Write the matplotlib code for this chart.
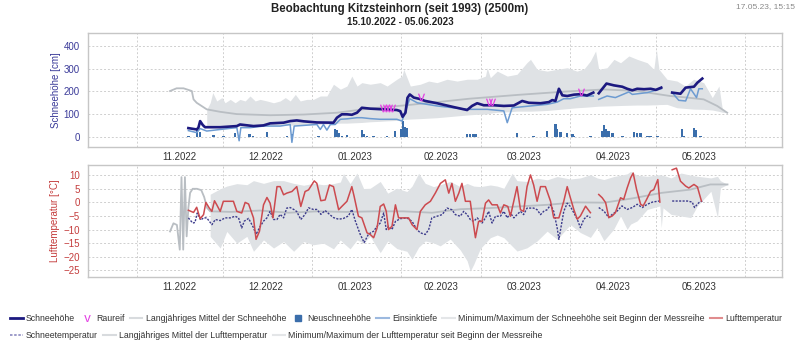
import matplotlib
matplotlib.use("Agg")
import matplotlib.pyplot as plt
import matplotlib.ticker as mticker
import matplotlib.dates as mdates
from matplotlib.lines import Line2D
import numpy as np
import pandas as pd

plt.rcParams['font.family'] = ['Liberation Sans', 'DejaVu Sans']

nan = np.nan
start = pd.Timestamp('2022-10-15')

# --- snow (days after 15.10.2022) ---
snow_days = [35, 37.9, 38.5, 39.1, 40, 40.8, 46.1, 51.9, 53, 57.7, 61.2, 63.5, 68.2, 70.5, 72.8, 75.2,
             79.8, 85.6, 86.8, 88.5, 90.3, 92, 93.8, 95.5, 98.4, 103.1, 107.7, 108.9, 109.7, 110.7, 111.4,
             112.2, 113.6, 115.3, 117.6, 121.7, 127.5, 132.2, 133.9, 135.7, 138, 141.5, 145, 148.5, 151.4,
             153.7, 157.8, 160.7, 161.9, 163, 164.2, 165.4, 167.1, 169.5, 171.7, 174, 176.2, 177, 178.1,
             180.8, 183.4, 186.3, 188, 189.8, 191.5, 193.9, 196.2, 198, 199.9, 202, 203.7, 206.6, 208.4,
             211.3, 212.5, 214.2]
snow_cm = [38, 32, 40, 69, 52, 42, 42, 47, 54, 47, 50, 59, 62, 69, 72, 68,
           63, 62, 84, 99, 99, 97, 106, 128, 124, 121, 118, 113, 88, 106, 172,
           187, 173, 168, 158, 148, 131, 118, 136, 148, 139, 139, 136, 138, 158,
           150, 148, 153, 162, 158, 212, 183, 180, 186, 188, 182, 195, nan, 192,
           235, 227, 221, 212, 205, 212, 210, 212, 207, 217, nan, 195, 190, 217,
           221, 239, 257]

sink_days = [35, 37.9, 39.1, 41.4, 46.1, 49.6, 51.9, 52.7, 53.3, 56.5, 61.2, 67, 70.5, 71.1, 71.9, 75.2,
             79.8, 81, 82.1, 83.3, 84.5, 86.2, 88, 90.3, 93.8, 95.5, 98.4, 101.9, 107.7, 109.5, 112.2,
             114.8, 121.7, 132.2, 139.2, 145, 146.2, 147.9, 154.3, 160.1, 163.6, 165.9, 168.2, 171.7,
             176.2, 177, 178.1, 181, 183.9, 188.6, 189.8, 195, 199.9, 202, 203.7, 206, 208.4, 210.1,
             212.2, 213, 214.2]
sink_cm = [27, 18, 36, 25, 32, 37, 40, -18, 40, 40, 47, 47, 54, -25, 47, 50,
           54, 32, 54, 29, 54, 54, 77, 79, 84, 84, 80, 77, 77, 69, 168,
           150, 136, 121, 121, 114, 62, 128, 136, 143, 153, 168, 168, 180,
           180, nan, 165, 180, 173, 198, 187, 195, 212, nan, 195, 161, 158, 212,
           173, 212, 212]

snow_mean_days = [28.6, 30.9, 33.3, 36.2, 36.8, 37.9, 41.4, 46.1, 51.9, 63.5, 75.2, 86.8, 98.4, 110,
                  121, 133, 150, 167, 180, 191.5, 203, 209, 214.7, 219.4, 222.9]
snow_mean_cm = [202, 214, 214, 202, 165, 150, 121, 110, 100, 95, 98, 106, 125, 138,
                152, 168, 185, 200, 209, 202, 180, 173, 165, 136, 106]

snow_band_days = [41.4, 42.6, 43.5, 44.9, 46.7, 47.8, 49.6, 51.3, 53.0, 54.8, 56.5, 58.3, 60.0, 62.4,
                  64.7, 67.0, 68.8, 70.5, 72.3, 74.0, 76.3, 78.6, 81.0, 83.3, 85.6, 88.0, 90.3, 92.0,
                  93.8, 95.5, 98.4, 101.9, 104.3, 107.7, 109.5, 110.1, 112.4, 115.9, 118.8, 121.7,
                  125.2, 128.7, 132.2, 135.7, 138.6, 139.2, 140.3, 142.7, 146.2, 149.6, 153.1, 154.3,
                  156.6, 160.1, 163.6, 167.1, 170.5, 173, 175.2, 177, 178.1, 181, 183.4, 185.7, 188.6,
                  191.5, 195, 197.3, 198.2, 199.1, 201.9, 205.4, 208.3, 211.2, 214.7, 217.7, 220,
                  221.2, 222.9]
snow_band_max = [120, 150, 195, 158, 173, 150, 165, 150, 165, 158, 180, 158, 165, 158,
                 150, 158, 173, 158, 187, 158, 165, 165, 180, 180, 232, 210, 224, 268,
                 224, 239, 232, 239, 224, 254, 268, 298, 224, 232, 246, 239,
                 254, 246, 254, 254, 268, 305, 261, 290, 268, 276, 328, 342,
                 298, 290, 298, 305, 290, 300, 335, 379, 298, 305, 342, 327, 357,
                 342, 327, 298, 386, 298, 254, 246, 224, 254, 239, 173, 224,
                 121, 106]
snow_band_min = [45, 45, 44, 44, 45, 45, 44, 45, 46, 45, 46, 47, 48, 48,
                 49, 50, 50, 51, 52, 52, 53, 55, 55, 56, 58, 60, 60, 61,
                 62, 63, 66, 68, 70, 72, 74, 76, 78, 80, 82, 84,
                 88, 92, 96, 99, 100, 101, 104, 108, 110, 113, 113, 113,
                 114, 116, 120, 124, 128, 130, 132, 134, 135, 136, 137, 138, 139,
                 140, 140, 141, 141, 142, 143, 128, 125, 122, 121, 118, 112,
                 108, 106]

new_days = [35, 38, 39, 43.7, 47.2, 51.3, 56.3, 57.5, 62.4, 69.4, 71.1, 80.4, 86.2, 86.8, 87.4,
            88.5, 90.3, 95.5, 96.1, 97.3, 99.6, 104.3, 107.1, 109.1, 109.8, 110.6, 111.2, 132.2,
            133.2, 134.2, 135.1, 149.6, 155.4, 160.1, 163, 163.6, 164.8, 167.1, 168.9, 169.4,
            175.2, 179.3, 179.9, 180.5, 181.6, 182.8, 186.3, 190.4, 191.5, 192.7, 195, 196.2,
            198.5, 207.2, 207.8, 211.3, 211.9, 213.6]
new_cm = [3, 35, 20, 6, 3, 15, 10, 5, 20, 3, 10, 4, 32, 30, 15,
          5, 9, 29, 10, 5, 4, 3, 25, 32, 69, 43, 40, 12,
          12, 12, 12, 15, 4, 25, 54, 32, 20, 17, 10, 4,
          5, 25, 50, 32, 25, 15, 5, 21, 15, 18, 5, 5,
          5, 32, 5, 37, 29, 5]

rime_days = [103, 104, 105, 106, 116, 140, 141, 172]
rime_cm = [128, 128, 128, 128, 176, 152, 152, 199]

# --- temperatures ---
air_days = [35.0, 36.8, 37.9, 39.1, 40.3, 41.1, 42.3, 43.2, 44.1, 44.9, 46.1, 47.2, 49.0, 50.7, 51.9,
            53.6, 54.8, 56.0, 57.7, 58.6, 59.8, 61.2, 62.4, 63.5, 64.5, 65.9, 67.0, 68.2, 69.3, 71.1,
            72.8, 74.2, 75.7, 76.9, 78.9, 79.8, 81.2, 82.7, 84.2, 85.6, 87.4, 88.5, 90.3, 92.0, 92.8,
            94.3, 95.5, 97.3, 98.4, 99.6, 100.8, 101.9, 103.1, 104.0, 104.8, 106.0, 107.2, 108.3,
            110.0, 111.8, 113.0, 114.7, 115.9, 117.6, 119.4, 121.1, 122.9, 124.6, 125.8, 126.9,
            128.1, 129.3, 130.4, 131.6, 133.3, 133.9, 135.1, 136.2, 137.4, 138.6, 139.7, 140.9,
            142.7, 143.8, 145.0, 146.4, 147.3, 148.7, 149.6, 150.8, 151.9, 153.1, 154.3, 155.4,
            156.6, 157.8, 159.5, 161.3, 162.4, 164.2, 165.9, 167.1, 168.2, 169.4, 170.6, 171.7,
            173.5, 175.2, 176.6, 178.1, 179.3, 180.5, 181.6, 182.8, 183.9, 185.7, 186.8, 188.0,
            189.2, 190.1, 191.3, 192.7, 193.6, 194.8, 196.2, 197.3, 198.7, 199.4, 201.5, 203.7,
            205.2, 206.6, 208.4, 209.5, 211.3, 212.5, 213.9]
air_temp = [-2.9, -3.7, -1.8, -6.0, -4.5, 0.0, -2.1, -3.3, 0.6, -0.9, -3.3, 0.4, 0.4, 0.4, -3.3,
            -3.9, 0.0, -0.6, -5.7, -13.6, -10.6, -0.9, 1.8, -0.3, -5.7, 5.8, 5.8, 2.8, 3.4, 4.0,
            5.8, -1.5, 4.0, 4.6, 7.9, 7.0, 0.6, 0.9, 6.4, 5.8, -2.7, -1.5, 0.4, 5.8, 2.2,
            -5.1, -5.7, -11.2, -11.8, -13.0, -9.4, -1.5, -0.6, -3.3, -10.0, -8.8, -0.9, -5.7,
            -5.7, -5.7, -8.2, -10.0, -3.3, -0.9, 0.4, 3.4, 7.0, 8.3, 3.4, 7.0,
            0.4, 3.4, 7.0, 0.4, 0.4, -4.5, -13.0, -7.0, -7.0, -0.3, 0.9, -0.9,
            -0.9, -3.9, -0.9, -1.5, -5.1, 1.6, 5.8, -2.7, -3.3, 5.8, 10.1, 6.4,
            0.4, 5.8, 5.8, 0.4, -5.7, -5.7, 0.4, 5.8, 1.7, -2.6, -6.2, -5.0,
            -1.4, -3.8, nan, 2.9, 1.7, -0.1, -5.6, -5.0, -3.8, 1.7, 1.1, 5.3,
            9.0, 10.8, 4.7, -0.7, -1.3, 1.1, 4.1, 4.7, 8.4, 0.1, nan, 12.0,
            12.6, 7.8, 6.0, 5.3, 6.6, 5.7, 0.5]

snowt_days = [35.0, 36.5, 37.3, 38.1, 39.3, 40.3, 41.4, 43.2, 44.4, 46.1, 47.8, 49.6, 51.3, 52.5, 53.6,
              54.5, 56.0, 57.7, 58.6, 59.8, 61.2, 62.4, 63.5, 64.7, 65.9, 67.0, 68.2, 69.3, 70.5, 71.9,
              72.8, 74.2, 75.7, 76.9, 78.6, 79.8, 81.2, 82.7, 84.2, 85.6, 87.4, 89.1, 90.8, 92.0, 93.2,
              94.9, 96.3, 97.8, 99.6, 100.8, 101.9, 103.1, 104.0, 104.8, 106.0, 107.2, 108.9, 111.2,
              113.0, 114.7, 115.9, 117.6, 118.8, 119.9, 121.7, 123.5, 125.2, 126.9, 128.1, 129.8,
              131.0, 132.2, 133.3, 134.5, 135.7, 137.4, 138.6, 139.7, 140.9, 142.1, 143.8, 145.0,
              146.2, 147.3, 148.5, 149.6, 150.8, 151.9, 153.1, 155.4, 156.6, 157.8, 158.9, 160.1,
              161.3, 162.4, 163.6, 164.2, 165.0, 165.9, 167.1, 168.2, 169.4, 170.6, 171.7, 172.9,
              174.1, 175.2, 176.5, 178.1, 179.9, 181.6, 182.8, 184.5, 186.2, 188.0, 189.8, 191.5,
              193.3, 195.0, 196.8, 199.1, 201.0, 203.7, 209.0, 210.7, 211.5, 213.0, 214.2]
snow_temp = [-5.7, -7.6, -7.4, -3.9, -6.5, -5.7, -5.7, -8.2, -6.3, -6.7, -5.7, -5.7, -5.1, -5.7, -9.4,
             -6.9, -5.9, -9.3, -11.8, -9.3, -6.9, -5.7, -3.3, -6.3, -6.3, -4.4, -5.7, -2.1, -1.9, -2.7,
             -3.4, -6.3, -4.4, -2.0, -2.6, -2.6, -4.4, -3.0, -4.4, -5.6, -6.2, -5.9, -5.0, -2.6, -6.8,
             -11.7, -14.8, -11.7, -10.6, -8.8, -7.6, -3.9, -10.0, -8.8, -10.0, -7.0, -6.0, -5.7,
             -7.0, -10.0, -11.2, -11.8, -10.0, -5.7, -5.1, -4.5, -2.1, -2.7, -4.5, -5.1,
             -3.3, -4.5, -6.3, -7.0, -5.7, -7.6, -5.7, -3.3, -7.6, -5.1, -5.1, -3.3,
             -5.7, -3.9, -5.7, -4.5, -3.3, -4.5, -2.1, -2.1, -2.7, -4.5, -3.3, -2.7,
             -0.9, -3.3, -9.4, -13.6, -8.8, -3.3, -0.3, -1.5, -3.8, -6.2, -9.3, -6.2,
             -5.0, -5.6, nan, -1.9, -3.2, -5.6, -4.4, -3.2, -1.3, -2.6, -1.9, -0.7,
             -1.9, -0.7, 0.1, 0.5, nan, 0.5, 0.5, 0.1, -1.9, -0.1, 0.5]

air_mean_days = [28.6, 29.8, 31.0, 32.0, 32.6, 33.2, 33.8, 34.4, 35.0, 35.6, 36.5, 38.0, 39.5, 40.5,
                 41.5, 42.6, 50, 60, 70, 80, 90, 100, 110, 120, 130, 140, 150, 160, 170, 180, 190,
                 200, 210, 217, 223]
air_mean = [-10.7, -7.7, -8.3, -17.4, 9.3, -17.4, 9.3, -12.5, -2, 3.5, 5, 5, 4.5, 2,
            -2, -3.3, -3.5, -3, -3.8, -3.3, -3.5, -3.3, -3.3, -3.8, -2.5, -2.1, -1.5, -0.9, 0, -0.1, 1.5,
            3.5, 4.7, 6.6, 6.6]

air_band_days = [42.6, 46.1, 48.4, 51.9, 55.4, 57.7, 61.2, 64.7, 68.2, 71.7, 75.2, 78.6, 82.1, 85.6,
                 88, 89.1, 91.4, 93.8, 96.1, 98.4, 101.9, 104.5, 107.7, 111.2, 113, 115.3, 117.6,
                 120.5, 122.8, 126.3, 129.8, 132.2, 133.3, 134.5, 136.8, 140.3, 142.7, 145, 147.9,
                 149.6, 153.1, 156.6, 160.1, 163.6, 168.2, 171.7, 175.2, 177.5, 179.9, 183.3, 185.7,
                 188, 189.2, 191.5, 195, 199.4, 199.9, 200.5, 203.3, 206.8, 210.2, 212.5, 217.2,
                 219.5, 220.5, 223]
air_band_max = [3, 5, 6, 6.9, 6.5, 8, 7, 8, 8, 7, 6.3, 7, 6.5, 6.9,
                7.5, 10.6, 6.9, 10.8, 5.1, 5.2, 7.7, 3.4, 5.2, 4, 6, 10.7, 7,
                5.8, 6.5, 7.7, 5.8, 7, 6.5, 6, 5.8, 6.4, 6, 5.2, 10.7,
                8, 7.7, 8.9, 8.3, 9.5, 8.6, 9, 10.2, 9, 8.4, 9.5, 10,
                10.5, 11.4, 10, 9.6, 10.2, 10, 10, 9, 10.8, 10, 9.6, 9,
                9.6, 8, 6.6]
air_band_min = [-12.5, -16.8, -10.7, -15, -12.5, -18, -13.8, -16.8, -14.4, -18, -14.4, -15.6, -15, -17.1,
                -13.8, -15, -17.1, -13.8, -15, -12.5, -18.5, -14.2, -17, -18, -20.9, -16.5, -14.2,
                -14.9, -16, -13.5, -17.5, -21.5, -25.3, -22.8, -17, -13, -12, -13, -16.1,
                -17.9, -16.7, -14.2, -10.6, -13.6, -8.2, -11.1, -12.9, -9.3, -14.1, -9.9, -5,
                -9.9, -8, -6.8, -2.6, -1.3, -9.3, -2, -4.4, -5, -5.6, -1.3, 4.1,
                -5.6, 5.3, 6.6]

month_starts = ['2022-11-01', '2022-12-01', '2023-01-01', '2023-02-01', '2023-03-01',
                '2023-04-01', '2023-05-01', '2023-06-01']
label_dates = ['2022-11-16', '2022-12-16', '2023-01-16', '2023-02-15', '2023-03-16',
               '2023-04-16', '2023-05-16']
month_labels = ['11.2022', '12.2022', '01.2023', '02.2023', '03.2023', '04.2023', '05.2023']


def to_dates(days):
    return start + pd.to_timedelta(np.asarray(days, dtype=float), unit='D')


NAVY = '#1c1980'
SINK = '#6d9bd1'
NEW = '#3b6eab'
BAND = '#dfe2e5'
MEAN = '#b9bec3'
RED = '#cc4a4f'
STEMP = '#3c3b8c'
RIME = '#e33fe3'
RIME_MARK = r'$\mathregular{v}$'

fig = plt.figure(figsize=(8, 3.6), dpi=100)
ax1 = fig.add_axes([0.11, 0.592, 0.8675, 0.316])
ax2 = fig.add_axes([0.11, 0.231, 0.8675, 0.311])

# top: snow
ax1.fill_between(to_dates(snow_band_days), snow_band_min, snow_band_max, color=BAND, lw=0, zorder=1)
ax1.plot(to_dates(snow_mean_days), snow_mean_cm, color=MEAN, lw=1.3, zorder=2)
ax1.bar(to_dates(new_days), new_cm, width=0.9, color=NEW, zorder=3)
ax1.plot(to_dates(sink_days), sink_cm, color=SINK, lw=1.1, zorder=4)
ax1.plot(to_dates(snow_days), snow_cm, color=NAVY, lw=1.9, zorder=5)
ax1.plot(to_dates(rime_days), rime_cm, ls='none', marker=RIME_MARK, color=RIME,
         markersize=5.5, mew=0, zorder=6)

# bottom: temperatures
ax2.fill_between(to_dates(air_band_days), air_band_min, air_band_max, color=BAND, lw=0, zorder=1)
ax2.plot(to_dates(air_mean_days), air_mean, color=MEAN, lw=1.3, zorder=2)
ax2.plot(to_dates(air_days), air_temp, color=RED, lw=1.1, zorder=4)
ax2.plot(to_dates(snowt_days), snow_temp, color=STEMP, lw=1.0, ls=(0, (1.5, 1)), zorder=3)

grid_locs = mdates.date2num(pd.to_datetime(month_starts))
label_locs = mdates.date2num(pd.to_datetime(label_dates))
for ax in (ax1, ax2):
    ax.set_xlim(start, start + pd.Timedelta(days=242))
    ax.xaxis.set_major_locator(mticker.FixedLocator(grid_locs))
    ax.xaxis.set_major_formatter(mticker.NullFormatter())
    ax.xaxis.set_minor_locator(mticker.FixedLocator(label_locs))
    ax.xaxis.set_minor_formatter(mticker.FixedFormatter(month_labels))
    ax.tick_params(axis='x', which='both', length=0, labelsize=7, colors='#333333', pad=4)
    ax.tick_params(axis='y', length=0, labelsize=7, pad=6)
    ax.grid(True, which='major', color='#cfcfcf', ls=(0, (2, 2)), lw=0.7)
    ax.set_axisbelow(True)
    for s in ax.spines.values():
        s.set_color('#c6c6c6')
        s.set_linewidth(1.0)

ax1.set_ylim(-45, 458)
ax1.set_yticks([0, 100, 200, 300, 400])
ax1.tick_params(axis='y', labelcolor='#3b3b99')
ax1.set_ylabel('Schneehöhe [cm]', color='#3b3b99', fontsize=7, labelpad=2)

ax2.set_ylim(-27.4, 13.8)
ax2.set_yticks([10, 5, 0, -5, -10, -15, -20, -25])
ax2.tick_params(axis='y', labelcolor='#c43c3c')
ax2.set_ylabel('Lufttemperatur [°C]', color='#c43c3c', fontsize=7, labelpad=2)

fig.text(0.5, 0.976, 'Beobachtung Kitzsteinhorn (seit 1993) (2500m)', ha='center', va='center',
         fontsize=8.3, fontweight='bold', color='#222222')
fig.text(0.5, 0.938, '15.10.2022 - 05.06.2023', ha='center', va='center',
         fontsize=7, fontweight='bold', color='#222222')
fig.text(0.994, 0.982, '17.05.23, 15:15', ha='right', va='center', fontsize=6, color='#8a8a8a')

row1 = [
    (Line2D([], [], color=NAVY, lw=2), 'Schneehöhe'),
    (Line2D([], [], ls='none', marker=RIME_MARK, color=RIME, markersize=5, mew=0), 'Raureif'),
    (Line2D([], [], color='#d8dbde', lw=1.5), 'Langjähriges Mittel der Schneehöhe'),
    (Line2D([], [], ls='none', marker='s', color=NEW, markersize=5), 'Neuschneehöhe'),
    (Line2D([], [], color='#9cb9df', lw=1.5), 'Einsinktiefe'),
    (Line2D([], [], color='#e4e6e8', lw=1.5), 'Minimum/Maximum der Schneehöhe seit Beginn der Messreihe'),
    (Line2D([], [], color='#e08c8e', lw=1.5), 'Lufttemperatur'),
]
row2 = [
    (Line2D([], [], color='#8b8ac0', lw=1.2, ls=(0, (1.5, 1))), 'Schneetemperatur'),
    (Line2D([], [], color='#d8dbde', lw=1.5), 'Langjähriges Mittel der Lufttemperatur'),
    (Line2D([], [], color='#e4e6e8', lw=1.5), 'Minimum/Maximum der Lufttemperatur seit Beginn der Messreihe'),
]
for row, y in ((row1, 0.114), (row2, 0.069)):
    fig.legend([h for h, _ in row], [t for _, t in row], loc='center left', bbox_to_anchor=(0.013, y),
               ncol=len(row), frameon=False, fontsize=6.3, handlelength=1.4, handletextpad=0.4,
               columnspacing=0.6, borderaxespad=0, borderpad=0, labelcolor='#333333')

fig.savefig('out.png', dpi=100)
